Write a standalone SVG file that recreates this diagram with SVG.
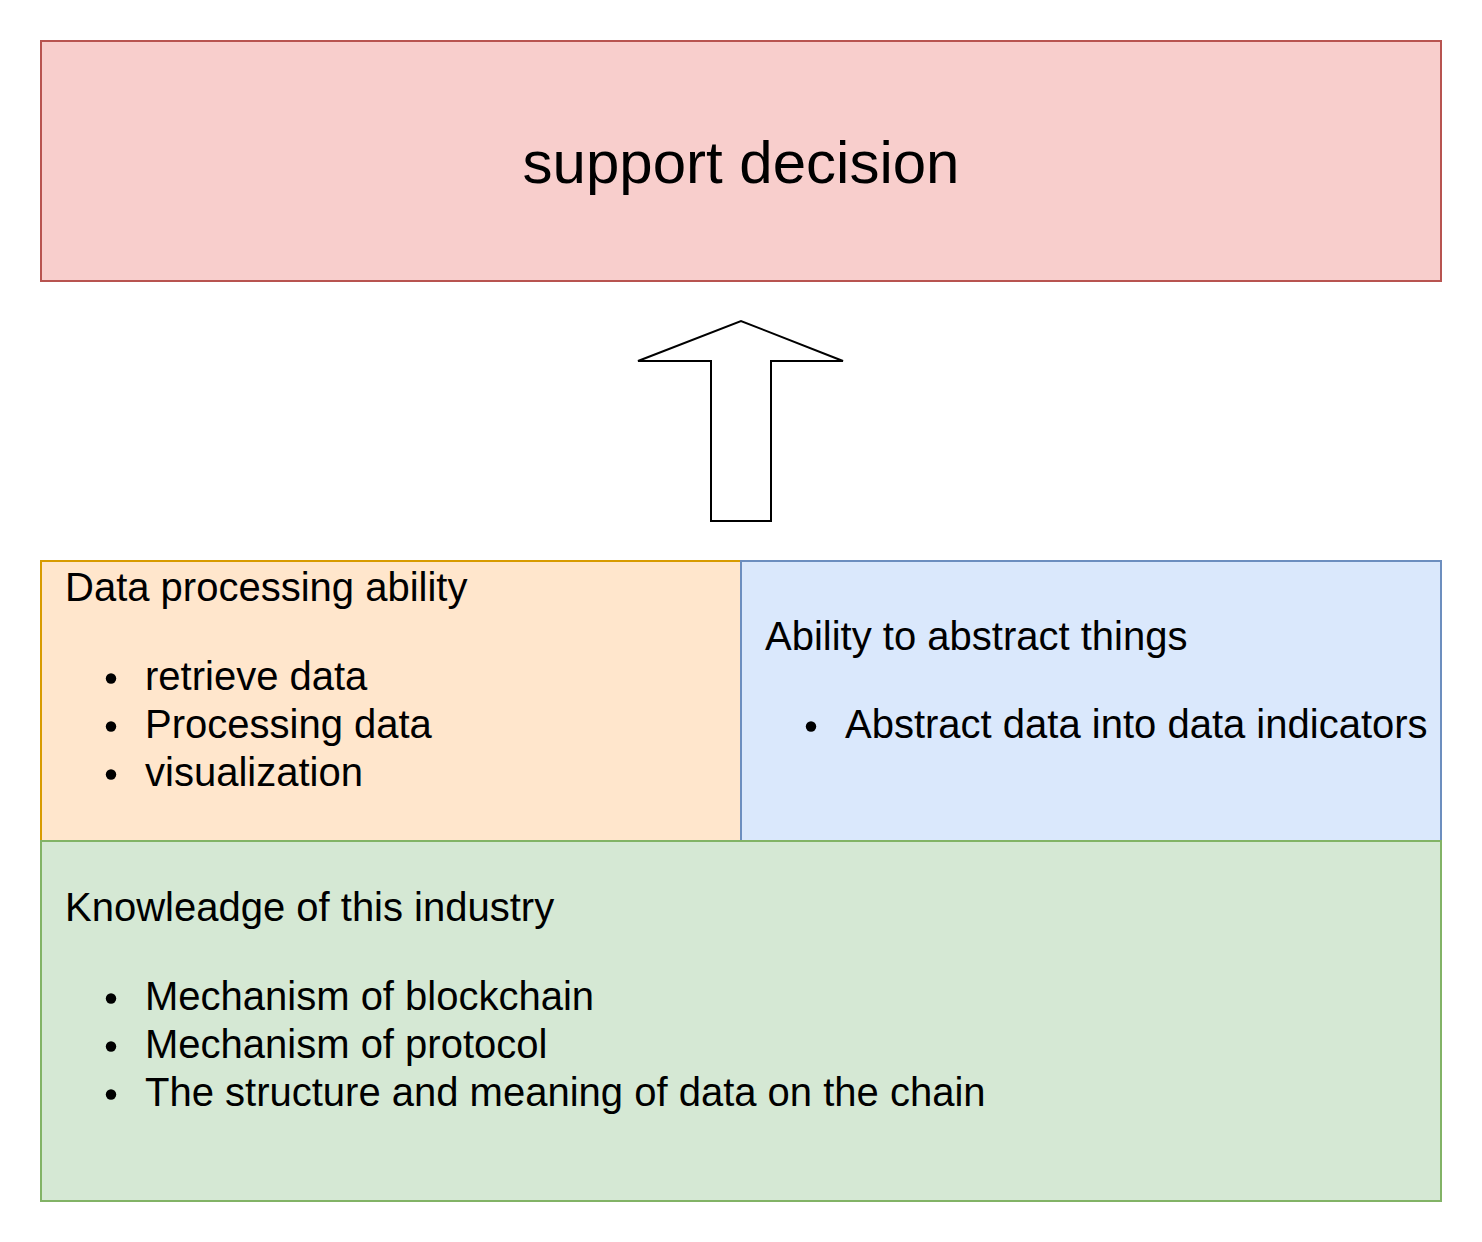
<svg xmlns="http://www.w3.org/2000/svg" width="1482" height="1242" viewBox="0 0 1482 1242">
<style>
text{font-family:"Liberation Sans",Arial,Helvetica,sans-serif;fill:#000}
.t{font-size:40px}
.big{font-size:60px}
.box{stroke-width:2}
.b{fill:#000}
</style>
<rect width="1482" height="1242" fill="#fff"/>
<g id="support-decision">
<rect class="box" x="41" y="41" width="1400" height="240" fill="#f8cecc" stroke="#b85450"/>
<text class="big" x="741" y="183" text-anchor="middle">support decision</text>
</g>
<g id="connectors">
<path id="up-arrow" d="M711,521 L711,361 L638,361 L741,321 L843,361 L771,361 L771,521 Z" fill="#fff" stroke="#000" stroke-width="2" stroke-linejoin="miter"/>
</g>
<g id="data-processing">
<rect class="box" x="41" y="561" width="700" height="280" fill="#ffe6cc" stroke="#d79b00"/>
<text class="t" x="65" y="601">Data processing ability</text>
<circle class="b" cx="111" cy="678.5" r="5.2"/>
<text class="t" x="145" y="690">retrieve data</text>
<circle class="b" cx="111" cy="726.5" r="5.2"/>
<text class="t" x="145" y="738">Processing data</text>
<circle class="b" cx="111" cy="774.5" r="5.2"/>
<text class="t" x="145" y="786">visualization</text>
</g>
<g id="abstract-things">
<rect class="box" x="741" y="561" width="700" height="280" fill="#dae8fc" stroke="#6c8ebf"/>
<text class="t" x="765" y="650">Ability to abstract things</text>
<circle class="b" cx="811" cy="726.5" r="5.2"/>
<text class="t" x="845" y="738">Abstract data into data indicators</text>
</g>
<g id="industry-knowledge">
<rect class="box" x="41" y="841" width="1400" height="360" fill="#d5e8d4" stroke="#82b366"/>
<text class="t" x="65" y="921">Knowleadge of this industry</text>
<circle class="b" cx="111" cy="998.5" r="5.2"/>
<text class="t" x="145" y="1010">Mechanism of blockchain</text>
<circle class="b" cx="111" cy="1046.5" r="5.2"/>
<text class="t" x="145" y="1058">Mechanism of protocol</text>
<circle class="b" cx="111" cy="1094.5" r="5.2"/>
<text class="t" x="145" y="1106">The structure and meaning of data on the chain</text>
</g>
</svg>
